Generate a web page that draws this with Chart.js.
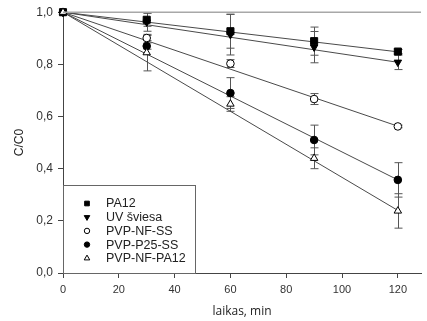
<!DOCTYPE html>
<html>
<head>
<meta charset="utf-8">
<script src="https://cdn.jsdelivr.net/npm/chart.js@4/dist/chart.umd.min.js"></script>
<style>
    body { margin: 0; background: #fff; }
    #wrap { width: 427px; height: 321px; }
</style>
</head>
<body>
<div id="wrap"><canvas id="myChart"></canvas></div>
<script>
// time points, min
const times = [0, 30, 60, 90, 120];

// C/C0 values per series
const pa12 = [1.0, 0.971, 0.927, 0.889, 0.849];
const uv = [1.0, 0.962, 0.914, 0.866, 0.808];
const nfSS = [1.0, 0.901, 0.803, 0.667, 0.562];
const p25SS = [1.0, 0.870, 0.690, 0.510, 0.357];
const nfPA12 = [1.0, 0.845, 0.648, 0.440, 0.238];

// error bar half lengths
const pa12Err = [0, 0.025, 0.065, 0.054, 0.008];
const uvErr = [0, 0.035, 0.078, 0.06, 0.028];
const nfSSErr = [0, 0.01, 0.015, 0.021, 0.005];
const p25SSErr = [0, 0.012, 0.059, 0.057, 0.066];
const nfPA12Err = [0, 0.07, 0.028, 0.04, 0.066];

// straight trend lines: value at start and end time
const fitTimes = [0, 120];
const pa12Fit = [1.0, 0.848];
const uvFit = [1.0, 0.808];
const nfSSFit = [1.0, 0.563];
const p25SSFit = [1.0, 0.357];
const nfPA12Fit = [1.0, 0.240];

const labels = ['PA12', 'UV šviesa', 'PVP-NF-SS', 'PVP-P25-SS', 'PVP-NF-PA12'];
const xTicks = [0, 20, 40, 60, 80, 100, 120];
const yTicks = [0, 0.2, 0.4, 0.6, 0.8, 1.0];

const values = [pa12, uv, nfSS, p25SS, nfPA12];
const errors = [pa12Err, uvErr, nfSSErr, p25SSErr, nfPA12Err];
const fits = [pa12Fit, uvFit, nfSSFit, p25SSFit, nfPA12Fit];

const markers = [
    { pointStyle: 'rect', radius: 5, rotation: 0, fill: '#000', lr: 3.3 },
    { pointStyle: 'triangle', radius: 4.3, rotation: 180, fill: '#000', lr: 3.2 },
    { pointStyle: 'circle', radius: 3.8, rotation: 0, fill: '#fff', lr: 2.7 },
    { pointStyle: 'circle', radius: 3.8, rotation: 0, fill: '#000', lr: 2.7 },
    { pointStyle: 'triangle', radius: 4.3, rotation: 0, fill: '#fff', lr: 3.2 }
];

function toPoints(xs, ys) {
    return xs.map((x, i) => ({ x: x, y: ys[i] }));
}

const datasets = [];
for (let i = 0; i < labels.length; i++) {
    datasets.push({
        type: 'line',
        label: labels[i] + ' fit',
        data: toPoints(fitTimes, fits[i]),
        borderColor: '#4a4a4a',
        borderWidth: 1,
        pointRadius: 0,
        fill: false,
        order: 3
    });
}
for (let i = labels.length - 1; i >= 0; i--) {
    datasets.push({
        type: 'scatter',
        label: labels[i],
        data: toPoints(times, values[i]),
        pointStyle: markers[i].pointStyle,
        pointRadius: markers[i].radius,
        pointRotation: markers[i].rotation,
        backgroundColor: markers[i].fill,
        borderColor: '#000',
        borderWidth: 1,
        clip: false,
        order: 1
    });
}

const errorBars = {
    id: 'errorBars',
    beforeDatasetsDraw(chart) {
        const ctx = chart.ctx;
        const xs = chart.scales.x;
        const ys = chart.scales.y;
        ctx.save();
        ctx.strokeStyle = '#555';
        ctx.lineWidth = 1;
        for (let s = 0; s < values.length; s++) {
            for (let i = 0; i < times.length; i++) {
                const e = errors[s][i];
                if (!e) continue;
                const px = Math.round(xs.getPixelForValue(times[i])) + 0.5;
                const top = ys.getPixelForValue(values[s][i] + e);
                const bot = ys.getPixelForValue(values[s][i] - e);
                ctx.beginPath();
                ctx.moveTo(px, top);
                ctx.lineTo(px, bot);
                ctx.moveTo(px - 4, top);
                ctx.lineTo(px + 4, top);
                ctx.moveTo(px - 4, bot);
                ctx.lineTo(px + 4, bot);
                ctx.stroke();
            }
        }
        ctx.restore();
    }
};

const frameAndLegend = {
    id: 'frameAndLegend',
    afterDraw(chart) {
        const ctx = chart.ctx;
        const area = chart.chartArea;
        ctx.save();
        // top frame line
        ctx.strokeStyle = '#a8a8a8';
        ctx.lineWidth = 1.5;
        ctx.beginPath();
        ctx.moveTo(area.left, area.top);
        ctx.lineTo(area.right, area.top);
        ctx.stroke();

        // legend box
        const bx = area.left, by = 185, bw = 132, bh = area.bottom - 185;
        ctx.fillStyle = '#fff';
        ctx.fillRect(bx, by, bw, bh);
        ctx.strokeStyle = '#666';
        ctx.lineWidth = 1;
        ctx.strokeRect(bx + 0.5, by + 0.5, bw, bh);

        ctx.font = '12.5px "Liberation Sans", Arial, sans-serif';
        ctx.textBaseline = 'middle';
        for (let i = 0; i < labels.length; i++) {
            const y = 203.5 + i * 13.7;
            ctx.fillStyle = markers[i].fill;
            ctx.strokeStyle = '#000';
            ctx.lineWidth = 1;
            Chart.helpers.drawPoint(ctx, {
                pointStyle: markers[i].pointStyle,
                radius: markers[i].lr,
                rotation: markers[i].rotation,
                borderWidth: 1
            }, 87, y);
            ctx.fillStyle = '#222';
            ctx.fillText(labels[i], 106, y + 0.5);
        }
        ctx.restore();
    }
};

new Chart(document.getElementById('myChart'), {
    type: 'scatter',
    data: { datasets: datasets },
    plugins: [errorBars, frameAndLegend],
    options: {
        responsive: true,
        maintainAspectRatio: false,
        animation: false,
        layout: { padding: { left: 8, top: 9, right: 0, bottom: 0 } },
        plugins: {
            legend: { display: false },
            tooltip: { enabled: false }
        },
        scales: {
            x: {
                type: 'linear',
                min: 0,
                max: 128.3,
                afterFit: s => { s.height = 48; },
                afterBuildTicks: s => { s.ticks = xTicks.map(v => ({ value: v })); },
                ticks: {
                    includeBounds: false,
                    padding: 5,
                    color: '#333',
                    font: { family: '"Liberation Sans", Arial, sans-serif', size: 11 }
                },
                grid: { drawOnChartArea: false, tickLength: 5, color: '#444' },
                border: { color: '#444', width: 1 },
                title: {
                    display: true,
                    text: 'laikas, min',
                    color: '#222',
                    padding: { top: 0, bottom: 2 },
                    font: { family: '"Open Sans", sans-serif', size: 12 }
                }
            },
            y: {
                type: 'linear',
                min: 0,
                max: 1,
                afterFit: s => { s.width = 55; },
                afterBuildTicks: s => { s.ticks = yTicks.map(v => ({ value: v })); },
                ticks: {
                    padding: 5,
                    color: '#333',
                    font: { family: '"Liberation Sans", Arial, sans-serif', size: 12 },
                    callback: v => v.toFixed(1).replace('.', ',')
                },
                grid: { drawOnChartArea: false, tickLength: 5, color: '#444' },
                border: { color: '#444', width: 1 },
                title: {
                    display: true,
                    text: 'C/C0',
                    color: '#222',
                    padding: { top: 4, bottom: 0 },
                    font: { family: '"Liberation Sans", Arial, sans-serif', size: 12 }
                }
            }
        }
    }
});
</script>
</body>
</html>
